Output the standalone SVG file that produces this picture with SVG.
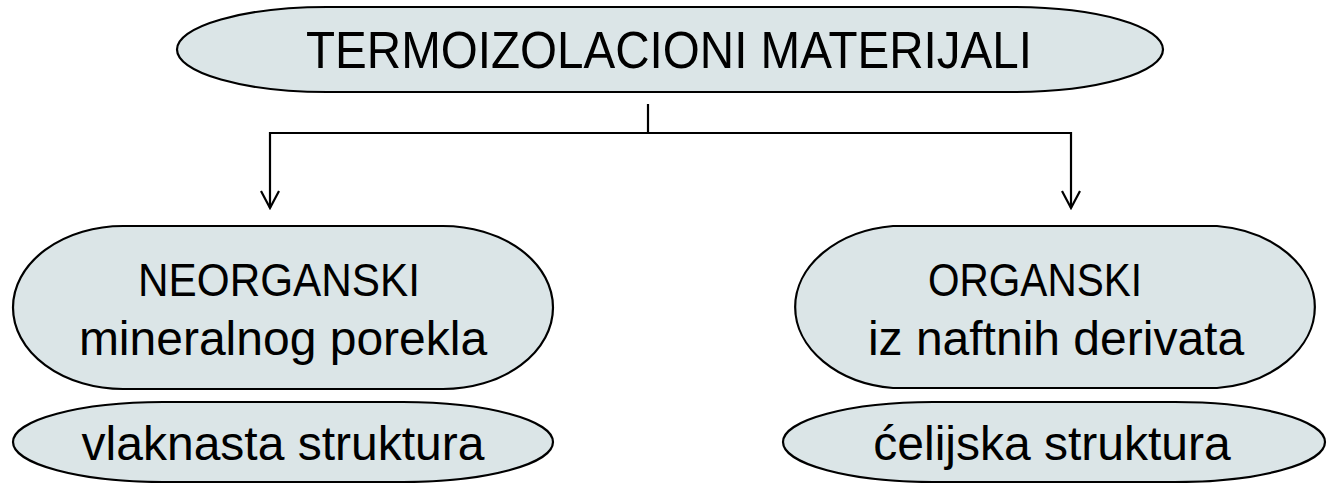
<svg xmlns="http://www.w3.org/2000/svg" width="1330" height="483" viewBox="0 0 1330 483">
<defs>
<style>
.node{fill:#dbe5e7;stroke:#000;stroke-width:2.2}
.t{font-family:"Liberation Sans",Arial,sans-serif;fill:#000;text-anchor:middle}
.c{fill:none;stroke:#000;stroke-width:2.2}
</style>
<marker id="arr" viewBox="0 0 20 20" refX="18" refY="10" markerWidth="20" markerHeight="20" markerUnits="userSpaceOnUse" orient="auto">
<path d="M1 1 L18 10 L1 19" fill="none" stroke="#000" stroke-width="2.2"/>
</marker>
</defs>
<rect width="1330" height="483" fill="#fff"/>
<g id="connectors">
<path class="c" d="M648 104 V133"/>
<path class="c" d="M648 133 H270 V208" marker-end="url(#arr)"/>
<path class="c" d="M648 133 H1071 V208" marker-end="url(#arr)"/>
</g>
<g id="n-top">
<path class="node" d="M327 7 H1013 A150 42.5 0 0 1 1013 92 H327 A150 42.5 0 0 1 327 7 Z"/>
<text class="t" x="669" y="68" font-size="51" textLength="726" lengthAdjust="spacingAndGlyphs">TERMOIZOLACIONI MATERIJALI</text>
</g>
<g id="n-neorganski">
<path class="node" d="M123 226 H443 A110 81.5 0 0 1 443 389 H123 A110 81.5 0 0 1 123 226 Z"/>
<text class="t" x="279" y="296" font-size="46" textLength="282" lengthAdjust="spacingAndGlyphs">NEORGANSKI</text>
<text class="t" x="283" y="355" font-size="48">mineralnog porekla</text>
</g>
<g id="n-vlaknasta">
<path class="node" d="M163 402 H403 A150 40 0 0 1 403 482 H163 A150 40 0 0 1 163 402 Z"/>
<text class="t" x="283" y="460" font-size="48">vlaknasta struktura</text>
</g>
<g id="n-organski">
<path class="node" d="M893 226 H1217 A110 81.5 0 0 1 1217 388 H893 A110 81.5 0 0 1 893 226 Z"/>
<text class="t" x="1035" y="296" font-size="46" textLength="214" lengthAdjust="spacingAndGlyphs">ORGANSKI</text>
<text class="t" x="1056" y="355" font-size="48">iz naftnih derivata</text>
</g>
<g id="n-celijska">
<path class="node" d="M933 402 H1175 A150 40 0 0 1 1175 482 H933 A150 40 0 0 1 933 402 Z"/>
<text class="t" x="1052" y="460" font-size="48">ćelijska struktura</text>
</g>
</svg>
